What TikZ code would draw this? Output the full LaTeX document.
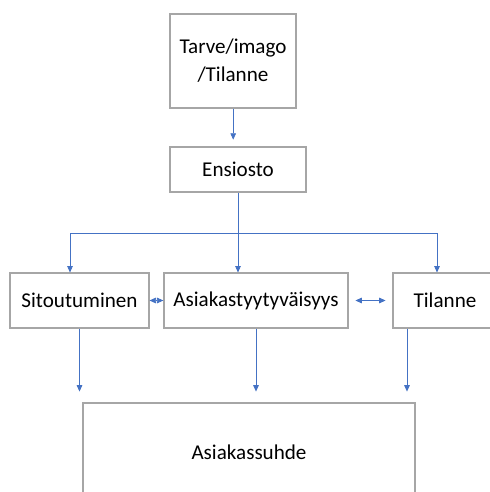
\documentclass[tikz,border=0pt]{standalone}
\usepackage{fontspec}
\setmainfont{Carlito}
\usetikzlibrary{arrows.meta}
\definecolor{linkblue}{HTML}{4472C4}
\definecolor{boxgray}{HTML}{A6A6A6}

\begin{document}
\begin{tikzpicture}[x=0.025cm,y=-0.025cm]
\tikzstyle{every node}+=[inner sep=0pt,font=\fontsize{15}{20}\selectfont]
\tikzstyle{box}=[draw=boxgray,line width=0.9pt,fill=white,align=center]
\tikzstyle{link}=[draw=linkblue,line width=0.5pt,-{Triangle[length=1.6mm,width=1.4mm]}]
\tikzstyle{twoway}=[draw=linkblue,line width=0.5pt,{Triangle[length=1.6mm,width=1.4mm]}-{Triangle[length=1.6mm,width=1.4mm]}]
\clip (0,0) rectangle (490,492);
\fill [white] (0,0) rectangle (490,492);
\node [box,minimum width=3.15cm,minimum height=2.35cm] (tarve) at (233,61) {Tarve/imago\\/Tilanne};
\node [box,minimum width=3.4cm,minimum height=1.12cm] (ensiosto) at (238,169.5) {Ensiosto};
\node [box,minimum width=3.47cm,minimum height=1.37cm] (sitout) at (79.5,300.5) {Sitoutuminen};
\node [box,minimum width=4.6cm,minimum height=1.37cm] (tyyt) at (256,300.5) {Asiakastyytyväisyys};
\node [box,minimum width=2.6cm,minimum height=1.37cm] (tilanne) at (445,300.5) {Tilanne};
\node [box,minimum width=8.3cm,minimum height=2.45cm] (suhde) at (249,452) {Asiakassuhde};
\coordinate (busl) at (70,233);
\coordinate (busr) at (437,233);
\draw [link,shorten >=0.17cm] ([xshift=-0.12cm]ensiosto.north |- tarve.south) -- ([xshift=-0.12cm]ensiosto.north);
\draw [link] (ensiosto.south) -- (ensiosto.south |- tyyt.north);
\draw [draw=linkblue,line width=0.5pt] (busl) -- (busr);
\draw [link] (busl) -- (busl |- sitout.north);
\draw [link] (busr) -- (busr |- tilanne.north);
\draw [twoway] (sitout.east) -- (tyyt.west);
\draw [twoway,shorten <=0.17cm,shorten >=0.17cm] (tyyt.east) -- (tilanne.west);
\draw [link,shorten >=0.27cm] (sitout.south) -- (sitout.south |- suhde.north);
\draw [link,shorten >=0.27cm] (tyyt.south) -- (tyyt.south |- suhde.north);
\draw [link,shorten >=0.27cm] ([xshift=-0.95cm]tilanne.south) -- ([xshift=-0.95cm]tilanne.south |- suhde.north);
\end{tikzpicture}
\end{document}
